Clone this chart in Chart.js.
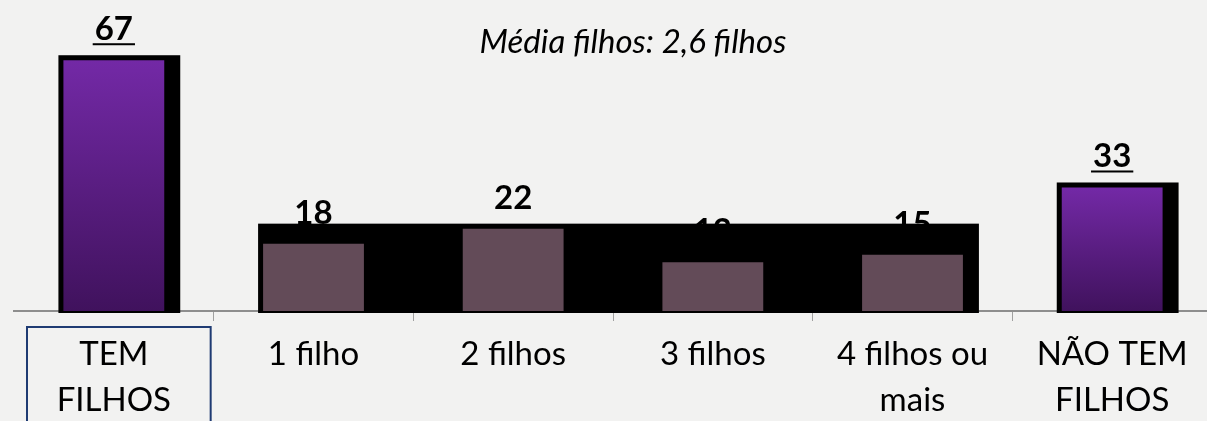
<!DOCTYPE html>
<html>
<head>
<meta charset="utf-8">
<script src="https://cdn.jsdelivr.net/npm/chart.js@4"></script>
<style>
  html, body { margin: 0; padding: 0; background: #f2f2f1; overflow: hidden; }
  #grafico { display: block; }
</style>
</head>
<body>
<canvas id="grafico" width="1212" height="421"></canvas>
<script>
// dados
let categorias = [["TEM", "FILHOS"], "1 filho", "2 filhos", "3 filhos", ["4 filhos ou", "mais"], ["NÃO TEM", "FILHOS"]];
let valores = [67, 18, 22, 13, 15, 33];
let totais = [true, false, false, false, false, true];
let titulo = "Média filhos: 2,6 filhos";

let fonte = "Lato, 'DejaVu Sans', sans-serif";

let corBarra = function(context) {
    let i = context.dataIndex;
    if (!totais[i]) return "#634b58";
    let chart = context.chart;
    let y = chart.scales.y;
    let y0 = y ? y.getPixelForValue(valores[i]) : NaN;
    let y1 = y ? y.getPixelForValue(0) : NaN;
    if (!isFinite(y0) || !isFinite(y1)) return "#5a1f86";
    let grad = chart.ctx.createLinearGradient(0, y0, 0, y1);
    grad.addColorStop(0, "#7329a6");
    grad.addColorStop(1, "#40125d");
    return grad;
};

// rótulos, sombras pretas e caixa do primeiro rótulo
let extras = {
    id: "extras",
    beforeDraw: function(chart) {
        let ctx = chart.ctx;
        ctx.save();
        ctx.fillStyle = "#f2f2f1";
        ctx.fillRect(0, 0, chart.width, chart.height);
        ctx.restore();
    },
    beforeDatasetsDraw: function(chart) {
        let ctx = chart.ctx;
        let meta = chart.getDatasetMeta(0);
        let base = chart.scales.y.getPixelForValue(0);
        ctx.save();

        // título
        ctx.fillStyle = "#000";
        ctx.font = "italic 33px " + fonte;
        ctx.textAlign = "center";
        ctx.textBaseline = "alphabetic";
        ctx.fillText(titulo, (chart.chartArea.left + chart.chartArea.right) / 2 + 20, 53);

        // valores
        ctx.font = "bold 33px " + fonte;
        meta.data.forEach(function(bar, i) {
            let y = bar.y - 20;
            ctx.fillText(String(valores[i]), bar.x, y);
            if (totais[i]) {
                let w = ctx.measureText(String(valores[i])).width + 4;
                ctx.fillRect(bar.x - w / 2, y + 3, w, 2);
            }
        });

        // sombras
        ctx.fillStyle = "#000";
        let grupo = null;
        meta.data.forEach(function(bar, i) {
            let esq = bar.x - bar.width / 2, dir = bar.x + bar.width / 2;
            if (totais[i]) {
                ctx.fillRect(esq - 5, bar.y - 5, bar.width + 21, base - bar.y + 7);
            } else {
                if (!grupo) grupo = {l: esq, r: dir, t: bar.y};
                grupo.l = Math.min(grupo.l, esq);
                grupo.r = Math.max(grupo.r, dir);
                grupo.t = Math.min(grupo.t, bar.y);
            }
        });
        if (grupo) {
            ctx.fillRect(grupo.l - 5, grupo.t - 5, grupo.r - grupo.l + 21, base - grupo.t + 7);
        }

        // caixa em volta de "TEM FILHOS"
        let x = chart.scales.x;
        let cx = x.getPixelForValue(0);
        let meio = (x.getPixelForValue(1) - cx) / 2;
        ctx.strokeStyle = "#1f3b73";
        ctx.lineWidth = 2;
        ctx.strokeRect(cx - meio + 13, base + 16, 2 * meio - 16, 120);
        ctx.restore();
    }
};

let grafico = new Chart(document.getElementById("grafico"), {
    type: "bar",
    data: {
        labels: categorias,
        datasets: [{
            data: valores,
            backgroundColor: corBarra,
            borderWidth: 0,
            categoryPercentage: 1,
            barPercentage: 0.505
        }]
    },
    options: {
        responsive: false,
        animation: false,
        layout: { padding: { left: 14, top: 49, right: 0, bottom: 0 } },
        plugins: {
            legend: { display: false },
            tooltip: { enabled: false }
        },
        scales: {
            y: { display: false, min: 0, max: 70 },
            x: {
                afterFit: function(scale) { scale.height = 110; },
                border: { display: true, color: "#8e8e8e", width: 2 },
                grid: {
                    offset: true,
                    drawOnChartArea: false,
                    drawTicks: true,
                    tickLength: 10,
                    lineWidth: 1,
                    color: function(c) { return c.index === 0 ? "rgba(0,0,0,0)" : "#a0a0a0"; }
                },
                ticks: {
                    color: "#000",
                    padding: 11,
                    maxRotation: 0,
                    autoSkip: false,
                    font: { family: fonte, size: 33, lineHeight: 1.38 }
                }
            }
        }
    },
    plugins: [extras]
});
</script>
</body>
</html>
